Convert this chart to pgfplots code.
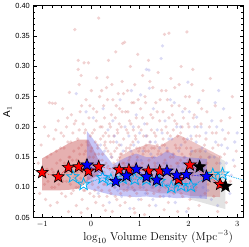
\documentclass[border=0pt]{standalone}
\usepackage{pgfplots}
\pgfplotsset{compat=1.18}
\usepackage{fontspec}
\newfontfamily\sansf{Liberation Sans}
\definecolor{ptred}{RGB}{200,80,80}
\definecolor{ptblue}{RGB}{100,100,215}
\definecolor{bandred}{RGB}{200,80,80}
\definecolor{bandblue}{RGB}{120,120,235}
\definecolor{bandgray}{RGB}{200,200,200}
\pgfdeclareplotmark{fstar}{%
  \pgfpathmoveto{\pgfpointpolar{90}{\pgfplotmarksize}}%
  \pgfpathlineto{\pgfpointpolar{126}{0.42\pgfplotmarksize}}%
  \pgfpathlineto{\pgfpointpolar{162}{\pgfplotmarksize}}%
  \pgfpathlineto{\pgfpointpolar{198}{0.42\pgfplotmarksize}}%
  \pgfpathlineto{\pgfpointpolar{234}{\pgfplotmarksize}}%
  \pgfpathlineto{\pgfpointpolar{270}{0.42\pgfplotmarksize}}%
  \pgfpathlineto{\pgfpointpolar{306}{\pgfplotmarksize}}%
  \pgfpathlineto{\pgfpointpolar{342}{0.42\pgfplotmarksize}}%
  \pgfpathlineto{\pgfpointpolar{18}{\pgfplotmarksize}}%
  \pgfpathlineto{\pgfpointpolar{54}{0.42\pgfplotmarksize}}%
  \pgfpathclose
  \pgfusepathqfillstroke}
\pgfdeclareplotmark{ostar}{%
  \pgfpathmoveto{\pgfpointpolar{90}{\pgfplotmarksize}}%
  \pgfpathlineto{\pgfpointpolar{126}{0.42\pgfplotmarksize}}%
  \pgfpathlineto{\pgfpointpolar{162}{\pgfplotmarksize}}%
  \pgfpathlineto{\pgfpointpolar{198}{0.42\pgfplotmarksize}}%
  \pgfpathlineto{\pgfpointpolar{234}{\pgfplotmarksize}}%
  \pgfpathlineto{\pgfpointpolar{270}{0.42\pgfplotmarksize}}%
  \pgfpathlineto{\pgfpointpolar{306}{\pgfplotmarksize}}%
  \pgfpathlineto{\pgfpointpolar{342}{0.42\pgfplotmarksize}}%
  \pgfpathlineto{\pgfpointpolar{18}{\pgfplotmarksize}}%
  \pgfpathlineto{\pgfpointpolar{54}{0.42\pgfplotmarksize}}%
  \pgfpathclose
  \pgfusepathqstroke}
\begin{document}
\begin{tikzpicture}
\begin{axis}[
  name=ax,
  scale only axis,
  width=211bp, height=213bp,
  xmin=-1.18, xmax=3.12,
  ymin=0.05, ymax=0.40,
  xtick={-1,0,1,2,3},
  ytick={0.05,0.10,0.15,0.20,0.25,0.30,0.35,0.40},
  yticklabels={0.05,0.10,0.15,0.20,0.25,0.30,0.35,0.40},
  minor x tick num=4,
  minor y tick num=4,
  tick align=inside,
  major tick length=3.5bp,
  minor tick length=2bp,
  tick style={black, line width=0.6pt},
  axis line style={black, line width=1pt},
  xticklabel style={font=\fontsize{8.5}{9}\selectfont},
  yticklabel style={font=\sansf\fontsize{7.5}{8}\selectfont},
  xlabel={$\log_{10}$ Volume Density (Mpc$^{-3}$)},
  xlabel style={font=\fontsize{11.5}{13}\selectfont, at={(ticklabel cs:0.595)}, anchor=near ticklabel, yshift=3bp},
  ylabel={A$_1$},
  ylabel style={font=\sansf\fontsize{10}{10}\selectfont, yshift=-3bp},
  clip=true,
]
% background red cloud
\addplot[ptred, only marks, mark=*, mark size=1.8pt, mark options={fill=ptred, draw=ptred, fill opacity=0.26, draw opacity=0}] coordinates {
(-1.08,0.14)(-1.05,0.09)(-1.02,0.17)(-0.98,0.12)(-0.95,0.20)(-0.93,0.08)(-0.9,0.15)(-0.88,0.11)(-0.85,0.24)(-0.83,0.07)(-0.8,0.13)(-0.79,0.239)(-0.76,0.18)(-0.74,0.10)(-0.73,0.239)(-0.71,0.16)(-0.69,0.075)(-0.67,0.21)(-0.65,0.12)(-0.63,0.145)(-0.61,0.19)(-0.6,0.09)
(-0.58,0.23)(-0.57,0.11)(-0.55,0.165)(-0.54,0.14)(-0.52,0.085)(-0.5,0.20)(-0.49,0.125)(-0.47,0.175)(-0.46,0.06)(-0.44,0.257)(-0.43,0.15)(-0.42,0.105)(-0.40,0.22)(-0.39,0.13)(-0.37,0.19)(-0.36,0.095)(-0.35,0.16)(-0.33,0.361)(-0.32,0.12)(-0.31,0.21)(-0.3,0.07)(-0.29,0.145)(-0.27,0.18)(-0.26,0.31)(-0.26,0.295)(-0.25,0.10)(-0.24,0.27)(-0.23,0.155)(-0.22,0.225)(-0.21,0.115)(-0.2,0.285)
(-0.19,0.17)(-0.18,0.08)(-0.17,0.14)(-0.16,0.205)(-0.15,0.125)(-0.14,0.306)(-0.13,0.19)(-0.12,0.095)(-0.11,0.16)(-0.10,0.245)(-0.09,0.11)(-0.08,0.175)(-0.07,0.065)(-0.06,0.135)(-0.05,0.306)(-0.04,0.215)(-0.03,0.15)(-0.02,0.09)(-0.01,0.185)(0.0,0.12)(0.01,0.26)(0.02,0.165)(0.03,0.105)(0.04,0.14)(0.05,0.23)(0.06,0.085)(0.07,0.195)(0.08,0.13)(0.09,0.155)(0.1,0.075)(0.11,0.21)(0.12,0.281)(0.13,0.12)(0.14,0.17)(0.15,0.1)(0.16,0.38)(0.17,0.145)(0.18,0.25)(0.19,0.11)(0.2,0.18)
(0.21,0.135)(0.22,0.095)(0.23,0.2)(0.24,0.155)(0.25,0.07)(0.26,0.235)(0.27,0.125)(0.28,0.17)(0.29,0.105)(0.3,0.19)(0.31,0.14)(0.32,0.265)(0.33,0.085)(0.34,0.282)(0.35,0.16)(0.36,0.31)(0.37,0.115)(0.38,0.205)(0.39,0.13)(0.4,0.175)(0.41,0.09)(0.42,0.22)(0.43,0.15)(0.44,0.06)(0.45,0.245)(0.46,0.12)(0.47,0.185)(0.48,0.1)(0.49,0.16)(0.5,0.215)(0.51,0.324)(0.52,0.135)(0.53,0.08)(0.54,0.195)(0.55,0.145)(0.56,0.255)(0.57,0.11)(0.58,0.17)(0.59,0.23)(0.6,0.125)
(0.61,0.09)(0.62,0.2)(0.63,0.155)(0.64,0.275)(0.65,0.338)(0.66,0.105)(0.67,0.18)(0.68,0.14)(0.69,0.34)(0.7,0.075)(0.71,0.225)(0.72,0.125)(0.73,0.165)(0.74,0.095)(0.75,0.26)(0.76,0.19)(0.77,0.115)(0.78,0.145)(0.79,0.21)(0.8,0.085)(0.81,0.3)(0.82,0.17)(0.83,0.13)(0.84,0.24)(0.85,0.1)(0.86,0.155)(0.87,0.195)(0.88,0.065)(0.89,0.135)(0.9,0.27)(0.91,0.115)(0.92,0.18)(0.93,0.215)(0.94,0.09)(0.95,0.15)(0.96,0.32)(0.97,0.125)(0.98,0.2)(0.99,0.105)(1.0,0.165)
(1.02,0.23)(1.03,0.08)(1.05,0.14)(1.06,0.285)(1.08,0.185)(1.09,0.115)(1.11,0.25)(1.12,0.16)(1.14,0.095)(1.15,0.205)(1.17,0.13)(1.18,0.31)(1.2,0.07)(1.21,0.175)(1.23,0.22)(1.24,0.11)(1.26,0.15)(1.27,0.265)(1.29,0.09)(1.3,0.19)(1.32,0.135)(1.33,0.24)(1.35,0.105)(1.36,0.17)(1.38,0.29)(1.39,0.125)(1.41,0.21)(1.42,0.085)(1.44,0.155)(1.45,0.26)(1.47,0.115)(1.48,0.18)(1.5,0.14)
(1.51,0.353)(1.53,0.1)(1.54,0.2)(1.56,0.16)(1.57,0.245)(1.59,0.075)(1.6,0.355)(1.61,0.13)(1.63,0.185)(1.64,0.28)(1.66,0.11)(1.67,0.22)(1.69,0.15)(1.7,0.09)(1.72,0.265)(1.73,0.17)(1.75,0.125)(1.76,0.205)(1.78,0.06)(1.79,0.14)(1.81,0.235)(1.82,0.105)(1.84,0.19)(1.85,0.3)(1.87,0.155)(1.88,0.085)(1.9,0.215)(1.91,0.12)(1.93,0.175)(1.94,0.25)(1.96,0.1)(1.97,0.357)(1.99,0.145)
(2.01,0.2)(2.03,0.08)(2.05,0.165)(2.07,0.27)(2.09,0.295)(2.1,0.125)(2.12,0.22)(2.14,0.095)(2.16,0.185)(2.18,0.14)(2.2,0.24)(2.22,0.07)(2.24,0.16)(2.26,0.205)(2.28,0.115)(2.3,0.26)(2.32,0.135)(2.34,0.09)(2.36,0.18)(2.38,0.225)(2.4,0.105)(2.42,0.15)(2.45,0.28)(2.47,0.12)(2.49,0.19)
(2.52,0.085)(2.55,0.235)(2.58,0.14)(2.61,0.17)(2.64,0.1)(2.67,0.21)(2.7,0.125)(2.74,0.155)(2.78,0.075)(2.82,0.19)(2.86,0.11)(2.9,0.25)(2.95,0.135)(2.98,0.16)
(0.02,0.11)(0.05,0.15)(0.08,0.095)(0.11,0.135)(0.14,0.165)(0.17,0.085)(0.2,0.125)(0.23,0.145)(0.26,0.105)(0.29,0.175)(0.32,0.115)(0.35,0.135)(0.38,0.095)(0.41,0.155)(0.44,0.125)(0.47,0.14)(0.5,0.085)(0.53,0.165)(0.56,0.105)(0.59,0.15)(0.62,0.12)(0.65,0.14)(0.68,0.095)(0.71,0.16)(0.74,0.13)(0.77,0.105)(0.8,0.15)(0.83,0.115)(0.86,0.175)(0.89,0.095)(0.92,0.14)(0.95,0.12)(0.98,0.16)(1.01,0.1)(1.04,0.13)(1.07,0.155)(1.1,0.11)(1.13,0.17)(1.16,0.09)(1.19,0.145)(1.22,0.125)(1.25,0.165)(1.28,0.1)(1.31,0.14)(1.34,0.12)(1.37,0.155)(1.4,0.095)(1.43,0.135)(1.46,0.17)(1.49,0.11)(1.52,0.145)(1.55,0.125)(1.58,0.16)(1.61,0.095)(1.64,0.135)(1.67,0.115)(1.7,0.155)(1.73,0.1)(1.76,0.14)(1.79,0.12)(1.82,0.165)(1.85,0.09)(1.88,0.13)(1.91,0.15)(1.94,0.11)(1.97,0.135)(2.0,0.095)(2.04,0.155)(2.08,0.12)(2.12,0.14)(2.16,0.1)(2.2,0.13)(2.25,0.15)(2.3,0.11)
(-0.5,0.11)(-0.45,0.15)(-0.4,0.09)(-0.35,0.135)(-0.3,0.1)(-0.25,0.165)(-0.2,0.125)(-0.15,0.095)(-0.1,0.145)(-0.05,0.115)(0.0,0.16)(-0.8,0.1)(-0.7,0.14)(-0.6,0.115)(-0.9,0.13)
(0.3,0.062)(0.9,0.058)(1.5,0.063)(1.1,0.055)(-0.2,0.058)(2.0,0.065)(2.6,0.06)(0.6,0.07)
(-0.95,0.105)(-0.87,0.185)(-0.82,0.155)(-0.77,0.125)(-0.72,0.195)(-0.66,0.105)(-0.62,0.165)(-0.56,0.185)(-0.53,0.125)(-0.48,0.215)(-0.41,0.175)(-0.38,0.145)(-0.34,0.205)(-0.28,0.125)(-0.24,0.195)(-0.19,0.235)(-0.14,0.155)(-0.11,0.195)(-0.06,0.17)(-0.02,0.235)(0.03,0.19)(0.06,0.12)(0.09,0.175)(0.12,0.225)(0.16,0.155)(0.19,0.2)(0.22,0.26)(0.25,0.185)(0.28,0.215)(0.31,0.165)(0.34,0.245)(0.37,0.185)(0.4,0.2)(0.43,0.27)(0.46,0.175)(0.49,0.135)(0.52,0.235)(0.55,0.19)(0.58,0.205)(0.61,0.155)(0.64,0.225)(0.67,0.255)(0.7,0.135)(0.73,0.195)(0.76,0.225)(0.79,0.165)(0.82,0.205)(0.85,0.135)(0.88,0.24)(0.91,0.185)(0.94,0.165)(0.97,0.245)(1.0,0.135)(1.03,0.195)(1.06,0.215)(1.09,0.165)(1.12,0.24)(1.15,0.185)(1.18,0.16)(1.21,0.275)(1.24,0.195)(1.27,0.215)(1.3,0.165)(1.33,0.185)(1.36,0.225)(1.39,0.16)(1.42,0.245)(1.45,0.195)(1.48,0.225)(1.51,0.17)(1.54,0.26)(1.57,0.19)(1.6,0.215)(1.63,0.15)(1.66,0.235)(1.69,0.195)(1.72,0.21)(1.75,0.165)(1.78,0.185)(1.81,0.27)(1.84,0.145)(1.87,0.2)(1.9,0.18)(1.93,0.23)(1.96,0.165)(1.99,0.205)(2.02,0.25)(2.06,0.18)(2.1,0.215)(2.14,0.16)(2.18,0.2)(2.23,0.185)(2.27,0.23)(2.33,0.17)(2.38,0.14)(2.43,0.2)(2.5,0.165)(2.57,0.19)(2.66,0.15)(2.75,0.18)(2.85,0.215)
};
% background blue cloud
\addplot[ptblue, only marks, mark=*, mark size=1.8pt, mark options={fill=ptblue, draw=ptblue, fill opacity=0.24, draw opacity=0}] coordinates {
(-0.3,0.255)(-0.1,0.225)(0.05,0.215)(0.15,0.09)(0.2,0.17)(0.25,0.23)(0.3,0.12)(0.35,0.195)(0.38,0.075)(0.42,0.15)(0.45,0.21)(0.5,0.1)(0.53,0.175)(0.56,0.135)(0.6,0.245)(0.63,0.085)(0.66,0.16)(0.7,0.2)(0.72,0.11)(0.75,0.14)(0.78,0.185)(0.8,0.065)(0.83,0.26)(0.86,0.125)(0.88,0.17)(0.9,0.095)(0.93,0.22)(0.95,0.145)(0.98,0.08)(1.0,0.19)
(1.02,0.253)(1.04,0.115)(1.07,0.16)(1.1,0.205)(1.12,0.09)(1.14,0.295)(1.16,0.135)(1.19,0.294)(1.2,0.264)(1.22,0.175)(1.25,0.1)(1.28,0.23)(1.3,0.15)(1.33,0.07)(1.36,0.195)(1.38,0.12)(1.41,0.165)(1.44,0.313)(1.47,0.334)(1.49,0.085)(1.52,0.21)(1.55,0.14)(1.58,0.105)(1.6,0.18)(1.63,0.245)(1.65,0.125)(1.68,0.155)(1.71,0.24)(1.73,0.075)(1.76,0.2)(1.79,0.135)(1.82,0.095)(1.85,0.17)(1.88,0.225)(1.9,0.115)(1.93,0.15)(1.96,0.06)(1.99,0.274)
(2.02,0.225)(2.05,0.185)(2.08,0.1)(2.1,0.14)(2.13,0.2)(2.17,0.216)(2.2,0.12)(2.22,0.244)(2.25,0.085)(2.28,0.165)(2.32,0.13)(2.36,0.19)(2.4,0.095)(2.44,0.15)(2.48,0.21)(2.52,0.11)(2.56,0.175)(2.6,0.07)(2.65,0.14)(2.7,0.195)(2.75,0.12)(2.8,0.165)(2.85,0.09)(2.92,0.145)(3.0,0.19)(2.55,0.24)(2.62,0.26)(2.72,0.23)
(0.1,0.14)(0.28,0.16)(0.4,0.105)(0.48,0.185)(0.55,0.095)(0.62,0.17)(0.68,0.125)(0.76,0.1)(0.82,0.16)(0.87,0.2)(0.92,0.13)(0.97,0.175)(1.03,0.145)(1.08,0.1)(1.13,0.185)(1.18,0.12)(1.23,0.155)(1.27,0.08)(1.32,0.175)(1.37,0.14)(1.42,0.1)(1.46,0.19)(1.51,0.125)(1.56,0.165)(1.61,0.085)(1.66,0.18)(1.7,0.13)(1.75,0.105)(1.8,0.16)(1.84,0.2)(1.89,0.14)(1.94,0.095)(1.98,0.18)(2.03,0.13)(2.07,0.16)(2.12,0.105)(2.16,0.175)(2.21,0.145)(2.26,0.2)(2.3,0.1)(2.35,0.16)(2.42,0.125)(2.47,0.08)(2.53,0.15)(2.58,0.2)(2.64,0.11)(2.68,0.17)(2.78,0.14)(2.88,0.12)(2.95,0.175)
};
% gray band
\addplot[fill=bandgray, fill opacity=0.5, draw=none] coordinates {
(2.03,0.160)(2.23,0.165)(2.76,0.143)(2.76,0.064)(2.23,0.076)(2.03,0.080)} -- cycle;
% red band (left)
\addplot[fill=bandred, fill opacity=0.45, draw=none] coordinates {
(-1.0,0.148)(-0.67,0.163)(-0.45,0.173)(-0.25,0.179)(-0.05,0.179)(0.16,0.145)
(0.16,0.120)(-0.05,0.112)(-0.25,0.098)(-0.45,0.096)(-0.67,0.095)(-1.0,0.095)} -- cycle;
% red band (right)
\addplot[fill=bandred, fill opacity=0.33, draw=none] coordinates {
(0.58,0.150)(0.78,0.160)(1.18,0.172)(1.41,0.168)(1.80,0.187)(2.03,0.178)(2.65,0.152)
(2.65,0.084)(2.03,0.086)(1.80,0.090)(1.41,0.090)(1.18,0.094)(0.78,0.095)(0.58,0.096)} -- cycle;
% blue band
\addplot[fill=bandblue, fill opacity=0.42, draw=none] coordinates {
(-0.08,0.193)(0.45,0.138)(0.73,0.150)(0.93,0.156)(1.14,0.150)(1.35,0.150)(1.56,0.160)(1.76,0.152)(1.96,0.150)(2.38,0.147)
(2.38,0.081)(1.96,0.083)(1.76,0.082)(1.56,0.084)(1.35,0.083)(1.14,0.085)(0.93,0.084)(0.73,0.085)(0.45,0.087)(-0.08,0.098)} -- cycle;
% cyan dotted + hollow stars
\addplot[cyan, densely dotted, line width=0.8pt, mark=ostar, mark size=6.5bp, mark options={solid, draw=cyan, line width=0.8pt}] coordinates {
(-0.37,0.1175)(-0.15,0.105)(0.24,0.116)(0.41,0.112)(0.65,0.115)(0.90,0.1135)(1.14,0.113)(1.40,0.110)(1.65,0.100)(1.85,0.103)(2.05,0.102)(2.50,0.121)(2.70,0.122)};
\addplot[cyan, densely dotted, line width=0.8pt] coordinates {(2.70,0.122)(3.3,0.108)};
% red stars
\addplot[red, densely dotted, line width=0.6pt, mark=fstar, mark size=6.5bp, mark options={solid, fill=red, draw=black, line width=0.6pt}] coordinates {
(-1.0,0.1245)(-0.67,0.1175)(-0.46,0.133)(-0.25,0.134)(-0.05,0.127)(0.16,0.134)(0.58,0.129)(0.78,0.129)(1.18,0.127)(1.41,0.127)(1.80,0.113)(2.03,0.137)(2.65,0.105)};
% blue stars
\addplot[blue, densely dotted, line width=0.6pt, mark=fstar, mark size=6.5bp, mark options={solid, fill=blue, draw=black, line width=0.6pt}] coordinates {
(-0.08,0.137)(0.51,0.110)(0.73,0.119)(0.93,0.130)(1.14,0.1175)(1.35,0.112)(1.56,0.127)(1.76,0.120)(1.96,0.121)(2.37,0.118)};
% black stars
\addplot[black, densely dotted, line width=0.6pt, mark=fstar, mark size=6.5bp, mark options={solid, fill=black, draw=black, line width=0.6pt}] coordinates {
(2.23,0.134)(2.76,0.102)};
\end{axis}
\path (ax.south west) ++(-32bp,-26bp) coordinate (bl);
\path (ax.north east) ++(6bp,6bp) coordinate (tr);
\path (bl) rectangle (tr);
\end{tikzpicture}
\end{document}
